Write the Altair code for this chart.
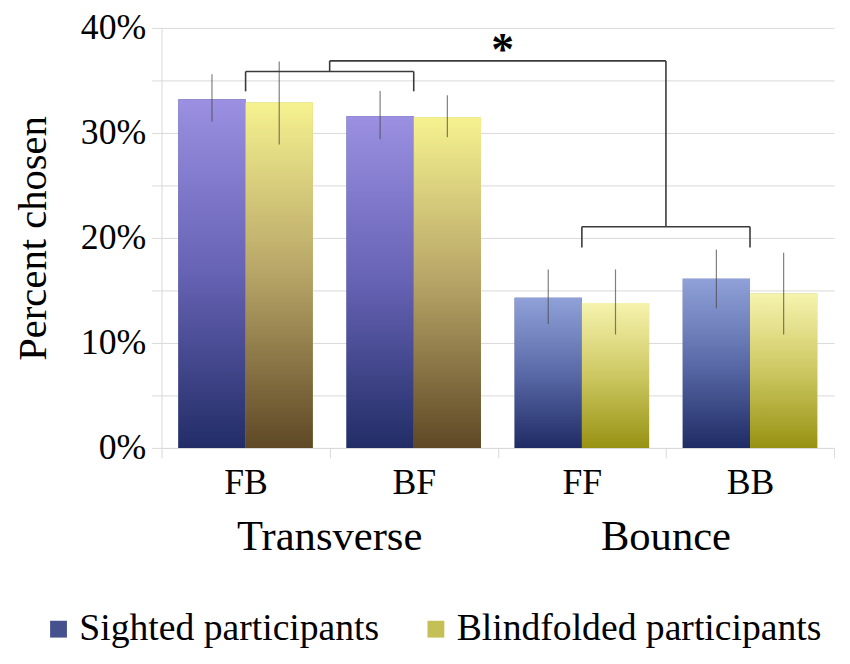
import altair as alt
import pandas as pd

# ---------------- data ----------------
categories = ["FB", "BF", "FF", "BB"]
groups = ["Transverse", "Transverse", "Bounce", "Bounce"]
series = ["Sighted participants", "Blindfolded participants"]

sighted = [0.332, 0.316, 0.143, 0.161]
sighted_lo = [0.311, 0.294, 0.118, 0.133]
sighted_hi = [0.356, 0.340, 0.170, 0.189]

blind = [0.329, 0.315, 0.138, 0.147]
blind_lo = [0.289, 0.296, 0.108, 0.108]
blind_hi = [0.368, 0.336, 0.170, 0.186]

y_ticks = [0.0, 0.05, 0.10, 0.15, 0.20, 0.25, 0.30, 0.35, 0.40]

group_labels = ["Transverse", "Bounce"]
group_label_anchor = ["BF", "BB"]   # label sits at the start of this category band

# significance brackets (data coordinates)
bracket_h_center = pd.DataFrame({"cat": ["FB", "FF"], "cat2": ["BF", "BB"], "value": [0.3585, 0.2107]})
bracket_legs = pd.DataFrame({"cat": ["FB", "BF", "FF", "BB"],
                             "value": [0.3396, 0.3396, 0.1908, 0.1908],
                             "value2": [0.3585, 0.3585, 0.2107, 0.2107]})
bracket_v_edge = pd.DataFrame({"cat": ["BF", "BB"], "value": [0.3585, 0.2107], "value2": [0.3686, 0.3686]})
bracket_h_edge = pd.DataFrame({"cat": ["BF"], "cat2": ["BB"], "value": [0.3686]})
star = pd.DataFrame({"cat": ["FF"], "value": [0.3645], "t": ["*"]})

rows = []
for i, c in enumerate(categories):
    kind = "T" if groups[i] == "Transverse" else "B"
    rows.append(dict(cat=c, group=groups[i], series=series[0], value=sighted[i],
                     lo=sighted_lo[i], hi=sighted_hi[i], key="S" + kind))
    rows.append(dict(cat=c, group=groups[i], series=series[1], value=blind[i],
                     lo=blind_lo[i], hi=blind_hi[i], key="Y" + kind))
df = pd.DataFrame(rows)

labels_df = pd.DataFrame({"cat": group_label_anchor, "label": group_labels})

# ---------------- styles ----------------
FONT = "Liberation Serif"
GRID = "#d9d9d9"


def grad(top, mid, bottom):
    return {"gradient": "linear", "x1": 0, "y1": 0, "x2": 0, "y2": 1,
            "stops": [{"offset": 0, "color": top},
                      {"offset": 0.5, "color": mid},
                      {"offset": 1, "color": bottom}]}


fills = {
    "ST": grad("#9b90e2", "#6662b4", "#222d66"),
    "SB": grad("#8fa1d8", "#5a6aa8", "#1f2b64"),
    "YT": grad("#f6f290", "#b6a466", "#5e4826"),
    "YB": grad("#f6f3ae", "#cdc862", "#979212"),
}

x_scale = alt.Scale(domain=categories, paddingInner=0, paddingOuter=0)
xoff_scale = alt.Scale(domain=series, paddingInner=0, paddingOuter=0.25)
y_scale = alt.Scale(domain=[0, 0.4], nice=False)

x_axis = alt.Axis(title=None, tickBand="extent", labelAngle=0, grid=False,
                  domainColor=GRID, tickColor=GRID, tickSize=10,
                  labelFont=FONT, labelFontSize=36, labelColor="#000000",
                  labelPadding=8)
y_axis = alt.Axis(values=y_ticks, format=".0%",
                  labelExpr="round(datum.value*100) % 10 == 0 ? datum.label : ''",
                  labelOverlap=False,
                  gridColor=GRID, domainColor=GRID, tickColor=GRID, tickSize=10,
                  labelFont=FONT, labelFontSize=36, labelColor="#000000",
                  labelPadding=6, title="Percent chosen", titleFont=FONT,
                  titleFontSize=41, titleFontWeight="normal", titleColor="#000000",
                  titlePadding=26)


def X(field="cat:N", band=None):
    if band is None:
        return alt.X(field, scale=x_scale, sort=categories, axis=x_axis)
    return alt.X(field, scale=x_scale, sort=categories, axis=x_axis, bandPosition=band)


def Y(field="value:Q"):
    return alt.Y(field, scale=y_scale, axis=y_axis)


xoff = alt.XOffset("series:N", scale=xoff_scale, sort=series)

base_bars = alt.Chart(df).mark_bar().encode(
    x=X(), xOffset=xoff, y=Y(),
    color=alt.Color("series:N", sort=series,
                    scale=alt.Scale(domain=series, range=["#45518f", "#c4c056"]),
                    legend=alt.Legend(title=None, orient="none", legendX=-123, legendY=588,
                                      direction="horizontal", symbolType="square",
                                      symbolSize=289, symbolStrokeWidth=0,
                                      labelFont=FONT, labelFontSize=38, labelColor="#000000",
                                      labelLimit=500, labelOffset=2, columnPadding=38,
                                      padding=0)),
)

grad_layers = []
for k, g in fills.items():
    grad_layers.append(
        alt.Chart(df).transform_filter(alt.datum.key == k).mark_bar(fill=g).encode(
            x=X(), xOffset=xoff, y=Y())
    )

err = alt.Chart(df).mark_rule(color="#4a4a4a", strokeWidth=1.2, opacity=0.7).encode(
    x=X(), xOffset=xoff, y=Y("lo:Q"), y2="hi:Q")

BR = "#3a3a3a"
BW = 1.6
br1 = alt.Chart(bracket_h_center).mark_rule(color=BR, strokeWidth=BW).encode(
    x=X(band=0.5), x2=alt.X2("cat2:N", bandPosition=0.5), y=Y())
br2 = alt.Chart(bracket_legs).mark_rule(color=BR, strokeWidth=BW).encode(
    x=X(band=0.5), y=Y(), y2="value2:Q")
br3 = alt.Chart(bracket_v_edge).mark_rule(color=BR, strokeWidth=BW).encode(
    x=X(band=0), y=Y(), y2="value2:Q")
br4 = alt.Chart(bracket_h_edge).mark_rule(color=BR, strokeWidth=BW).encode(
    x=X(band=0), x2=alt.X2("cat2:N", bandPosition=0), y=Y())
star_layer = alt.Chart(star).mark_text(font=FONT, fontSize=46, fontWeight="bold",
                                       color="#000000", baseline="alphabetic",
                                       align="center", dx=5).encode(
    x=X(band=0), y=Y(), text="t:N")

group_text = alt.Chart(labels_df).mark_text(font=FONT, fontSize=43, color="#000000",
                                            baseline="alphabetic", align="center").encode(
    x=X(band=0), y=alt.value(527), text="label:N")

chart = alt.layer(base_bars, *grad_layers, err, br1, br2, br3, br4, star_layer, group_text).properties(
    width=679, height=424,
    padding={"left": 155, "top": 17, "right": 8, "bottom": 212},
    autosize=alt.AutoSizeParams(type="none"),
    background="#ffffff",
).configure_view(strokeWidth=0)

chart.save("out.html", embed_options={"renderer": "svg", "actions": False})
